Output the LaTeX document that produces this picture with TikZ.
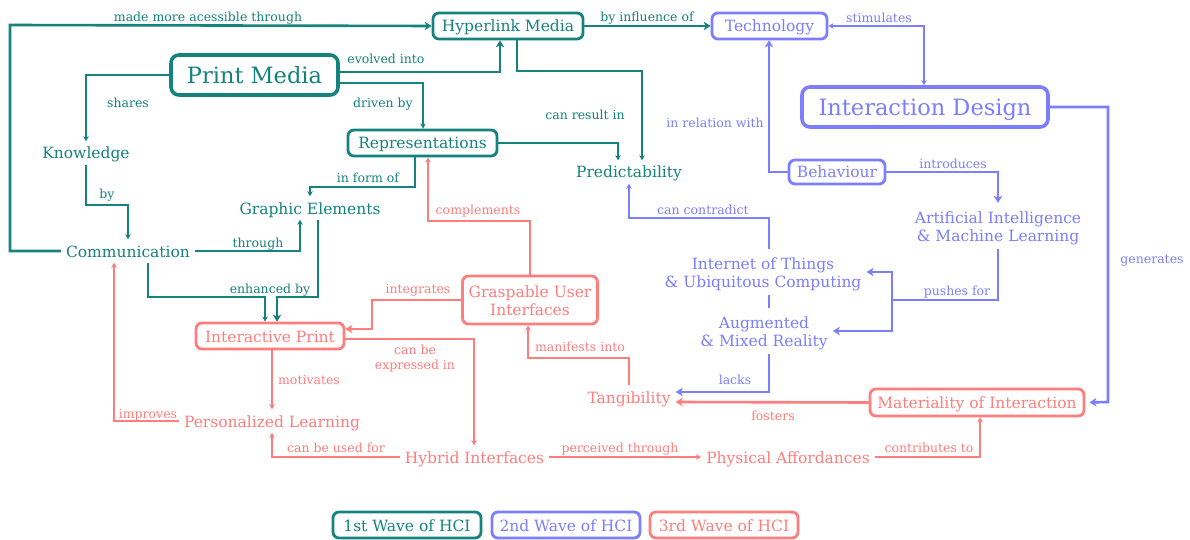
\documentclass[tikz,border=0pt]{standalone}
\usepackage{fontspec}
\setmainfont{DejaVu Serif}
\usetikzlibrary{arrows.meta}
\definecolor{wteal}{RGB}{20,130,125}
\definecolor{wpurple}{RGB}{125,125,255}
\definecolor{wred}{RGB}{255,125,125}
% two centred lines, set a little lower without changing the node's size
\newcommand{\twolines}[2]{\raisebox{-3pt}[\height][\depth]{\begin{tabular}{@{}c@{}}#1\\#2\end{tabular}}}
\tikzset{
  nodefont/.style={font=\fontsize{15.5}{18}\selectfont},
  bigfont/.style={font=\fontsize{22.5}{26}\selectfont},
  lblfont/.style={font=\fontsize{12.5}{14.5}\selectfont},
  conc/.style={nodefont, inner sep=5pt, text height=12.5pt, text depth=0.5pt},
  conctwo/.style={nodefont, inner sep=5pt},
  box/.style={draw, nodefont, rounded corners=6pt, line width=2.8pt, inner sep=0pt,
              text height=12.5pt, text depth=0.5pt},
  boxtwo/.style={draw, nodefont, rounded corners=6pt, line width=2.8pt, inner sep=0pt},
  bigbox/.style={draw, bigfont, rounded corners=8pt, line width=3.6pt, inner sep=0pt,
                 text height=19pt, text depth=1.5pt},
  lbl/.style={lblfont, inner sep=0pt, text height=11pt, text depth=0.5pt},
  lbltwo/.style={lblfont, inner sep=0pt},
  thin/.style={line width=1.3pt},
  thick/.style={line width=2.6pt},
  arr/.style={-{Stealth[length=5pt,width=5.5pt,inset=1.5pt]}},
  arrk/.style={-{Stealth[length=7pt,width=8.5pt,inset=2pt]}},
  tealc/.style={draw=wteal, text=wteal},
  purc/.style={draw=wpurple, text=wpurple},
  redc/.style={draw=wred, text=wred},
}
\begin{document}
\begin{tikzpicture}[x=1pt, y=-1pt]
\fill[white] (0,0) rectangle (1190,540);
\useasboundingbox (0,0) rectangle (1190,540);

% ---------- concepts ----------
\node[bigbox, tealc, minimum width=167pt, minimum height=40pt] (PM) at (254.5,75) {Print Media};
\node[box, tealc, minimum width=150pt, minimum height=26pt] (HM) at (508,26) {Hyperlink Media};
\node[box, purc, minimum width=115pt, minimum height=26pt] (Tech) at (769.5,26) {Technology};
\node[bigbox, purc, minimum width=246pt, minimum height=40pt] (ID) at (925,107) {Interaction Design};
\node[conc, text=wteal] (Know) at (86,153) {Knowledge};
\node[box, tealc, minimum width=149pt, minimum height=26pt] (Rep) at (422.5,143) {Representations};
\node[conc, text=wteal] (Pred) at (629,172) {Predictability};
\node[box, purc, minimum width=96pt, minimum height=24pt] (Beh) at (837,172) {Behaviour};
\node[conc, text=wteal] (GE) at (310,208) {Graphic Elements};
\node[conctwo, text=wpurple] (AI) at (998,226) {\twolines{Artificial Intelligence}{\& Machine Learning}};
\node[conc, text=wteal] (Comm) at (128,251) {Communication};
\node[conctwo, text=wpurple] (IoT) at (763,272) {\twolines{Internet of Things}{\& Ubiquitous Computing}};
\node[boxtwo, redc, minimum width=135pt, minimum height=48pt] (Grasp) at (530,300) {\twolines{Graspable User}{Interfaces}};
\node[box, redc, minimum width=148pt, minimum height=26pt] (IP) at (270,336) {Interactive Print};
\node[conctwo, text=wpurple] (AR) at (764,331) {\twolines{Augmented}{\& Mixed Reality}};
\node[conc, text=wred] (Tang) at (629,397) {Tangibility};
\node[box, redc, minimum width=214pt, minimum height=27pt] (Mat) at (977,402.5) {Materiality of Interaction};
\node[conc, text=wred] (PL) at (272,421) {Personalized Learning};
\node[conc, text=wred] (HI) at (474.5,457) {Hybrid Interfaces};
\node[conc, text=wred] (PA) at (788,457) {Physical Affordances};

% ---------- legend ----------
\node[box, tealc, minimum width=148pt, minimum height=26pt] (W1) at (407,525) {1st Wave of HCI};
\node[box, purc, minimum width=148pt, minimum height=26pt] (W2) at (566,525) {2nd Wave of HCI};
\node[box, redc, minimum width=148pt, minimum height=26pt] (W3) at (724,525) {3rd Wave of HCI};

% ---------- first wave links ----------
\draw[wteal, thick, arrk] (Comm.west) -| (10,25) -- (HM.west);
\draw[wteal, thick, arrk] (PM.east |- 0,72) -| (HM.south -| 500,0);
\draw[wteal, thin, arr] (PM.east |- 0,83) -| (Rep.north -| 423,0);
\draw[wteal, thin, arr] (PM.west) -| (Know.north);
\draw[wteal, thick, arrk] (HM.east) -- (Tech.west);
\draw[wteal, thin, arr] (HM.south -| 517,0) |- (642,71) -- (Pred.north -| 642,0);
\draw[wteal, thin, arr] (Rep.east) -| (Pred.north -| 618,0);
\draw[wteal, thin, arr] (Rep.south -| 415,0) |- (GE.north |- 0,187) -- (GE.north);
\draw[wteal, thin, arr] (Comm.east) -| (GE.south -| 300,0);
\draw[wteal, thin, arr] (Know.south) |- (Comm.north |- 0,205) -- (Comm.north);
\draw[wteal, thin, arr] (Comm.south -| 148,0) |- (265,297) -- (IP.north -| 265,0);
\draw[wteal, thick, arrk] (GE.south -| 318,0) |- (277,297) -- (IP.north -| 277,0);

% ---------- second wave links ----------
\draw[wpurple, thin, {Stealth[length=5pt,width=5.5pt,inset=1.5pt]}-{Stealth[length=5pt,width=5.5pt,inset=1.5pt]}]
  (Tech.east) -| (ID.north -| 924,0);
\draw[wpurple, thick, arrk] (Beh.west) -| (Tech.south -| 769,0);
\draw[wpurple, thick, arrk] (Beh.east) -| (AI.north);
\coordinate (PF) at (892,300);
\draw[wpurple, thick] (AI.south) |- (PF);
\draw[wpurple, thick, arrk] (PF) |- (IoT.east);
\draw[wpurple, thick, arrk] (PF) |- (AR.east);
\draw[wpurple, thick] (IoT.south -| 769,0) -- (AR.north -| 769,0);
\draw[wpurple, thin, arr] (IoT.north -| 769,0) |- (Pred.south |- 0,218) -- (Pred.south);
\draw[wpurple, thick, arrk] (AR.south -| 769,0) |- (Tang.east |- 0,392);
\draw[wpurple, thick, arrk, shorten >=4pt] (ID.east) -| (1108,402) -- (Mat.east);

% ---------- third wave links ----------
\draw[wred, thin, arr] (Grasp.north) |- (428,221) -- (Rep.south -| 428,0);
\draw[wred, thick, arrk] (Grasp.west) -| (372,329) -- (IP.east |- 0,329);
\draw[wred, thin, arr] (IP.east |- 0,339) -| (HI.north -| 474,0);
\draw[wred, thin, arr] (IP.south -| 272,0) -- (PL.north -| 272,0);
\draw[wred, thin, arr] (PL.west) -| (Comm.south -| 114,0);
\draw[wred, thin, arr] (HI.west) -| (PL.south -| 272,0);
\draw[wred, thin, arr] (HI.east) -- (PA.west);
\draw[wred, thin, arr] (PA.east) -| (Mat.south -| 980,0);
\draw[wred, thick, arrk] (Mat.west) -- (Tang.east |- 0,402);
\draw[wred, thin, arr] (Tang.north) |- (528,358) -- (Grasp.south -| 528,0);

% ---------- link labels ----------
\node[lbl, text=wteal] (t1) at (208,16) {made more acessible through};
\node[lbl, text=wteal] (t2) at (386,58) {evolved into};
\node[lbl, text=wteal] (t3) at (383,102) {driven by};
\node[lbl, text=wteal] (t4) at (128,102) {shares};
\node[lbl, text=wteal] (t5) at (647,16) {by influence of};
\node[lbl, text=wteal] (t6) at (585,114) {can result in};
\node[lbl, text=wteal] (t7) at (368,177) {in form of};
\node[lbl, text=wteal] (t8) at (107,193) {by};
\node[lbl, text=wteal] (t9) at (258,242) {through};
\node[lbl, text=wteal] (t10) at (270,288) {enhanced by};
\node[lbl, text=wpurple] (t11) at (879,17) {stimulates};
\node[lbl, text=wpurple] (t12) at (715,122) {in relation with};
\node[lbl, text=wpurple] (t13) at (953,163) {introduces};
\node[lbl, text=wpurple] (t14) at (957,290) {pushes for};
\node[lbl, text=wpurple] (t15) at (703,209) {can contradict};
\node[lbl, text=wpurple] (t16) at (735,379) {lacks};
\node[lbl, text=wpurple] (t17) at (1152,258) {generates};
\node[lbl, text=wred] (t18) at (478,209) {complements};
\node[lbl, text=wred] (t19) at (418,288) {integrates};
\node[lbltwo, text=wred] (t20) at (415,359) {\begin{tabular}{@{}c@{}}can be\\expressed in\end{tabular}};
\node[lbl, text=wred] (t21) at (309,379) {motivates};
\node[lbl, text=wred] (t22) at (148,413) {improves};
\node[lbl, text=wred] (t23) at (336,447) {can be used for};
\node[lbl, text=wred] (t24) at (620,447) {perceived through};
\node[lbl, text=wred] (t25) at (929,447) {contributes to};
\node[lbl, text=wred] (t26) at (773,415) {fosters};
\node[lbl, text=wred] (t27) at (580,346) {manifests into};
\end{tikzpicture}
\end{document}
